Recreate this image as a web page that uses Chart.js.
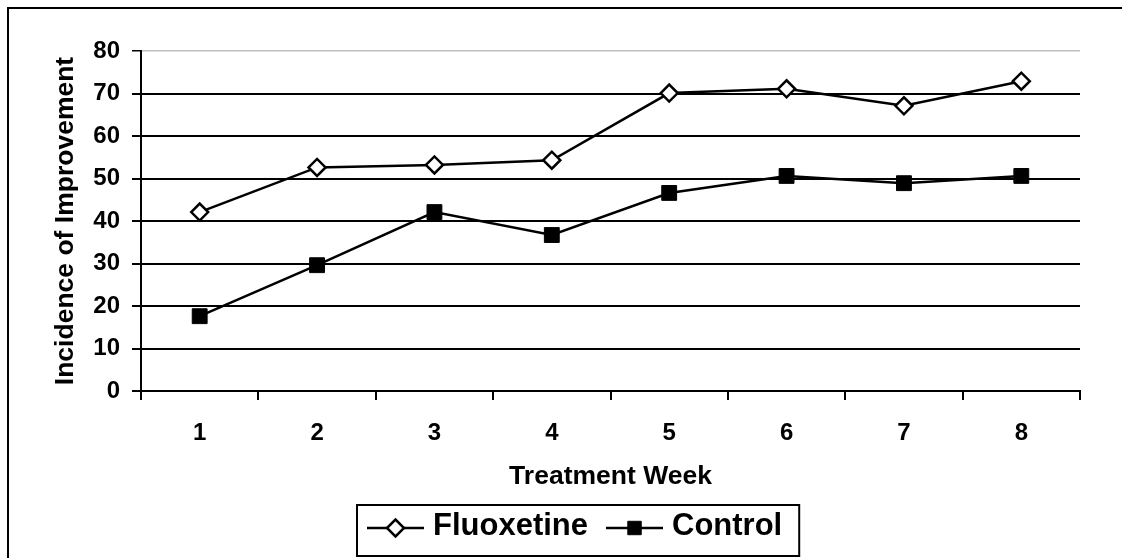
<!DOCTYPE html>
<html>
<head>
<meta charset="utf-8">
<script src="https://cdn.jsdelivr.net/npm/chart.js@4.4.1/dist/chart.umd.min.js"></script>
<style>
html,body{margin:0;padding:0;background:#fff;}
#wrap{width:1122px;height:558px;position:relative;}
</style>
</head>
<body>
<div id="wrap"><canvas id="c" width="1122" height="558"></canvas></div>
<script>
const weeks = ['1','2','3','4','5','6','7','8'];
const fluoxetine = [42.1, 52.6, 53.2, 54.3, 70.1, 71.1, 67.1, 72.9];
const control = [17.6, 29.6, 42.1, 36.7, 46.6, 50.6, 48.9, 50.6];
const yTicks = [0,10,20,30,40,50,60,70,80];
const seriesNames = ['Fluoxetine','Control'];

const FONT = '"Liberation Sans", Arial, sans-serif';

const framePlugin = {
  id: 'frame',
  beforeDraw(chart) {
    const ctx = chart.ctx;
    ctx.save();
    ctx.fillStyle = '#fff';
    ctx.fillRect(0,0,chart.width,chart.height);
    ctx.fillStyle = '#000';
    ctx.fillRect(7,7,chart.width-7,2);
    ctx.fillRect(7,7,2,chart.height-7);
    ctx.restore();
  }
};

const legendPlugin = {
  id: 'boxLegend',
  afterDraw(chart) {
    const ctx = chart.ctx;
    ctx.save();
    ctx.font = 'bold 31px ' + FONT;
    const lineLen = 57, gapText = 9, gapItem = 18, padL = 10, padR = 17;
    const items = chart.data.datasets.map(ds => ({ds, w: ctx.measureText(ds.label).width}));
    let total = padL + padR;
    items.forEach((it,i) => { total += lineLen + gapText + it.w + (i < items.length-1 ? gapItem : 0); });
    const cx = 578, top = 505, h = 51;
    const left = Math.round(cx - total/2);
    ctx.strokeStyle = '#000';
    ctx.lineWidth = 2;
    ctx.strokeRect(left, top, total, h);
    let x = left + padL;
    const my = 528;
    items.forEach(it => {
      const ds = it.ds;
      ctx.beginPath();
      ctx.moveTo(x, my); ctx.lineTo(x+lineLen, my);
      ctx.lineWidth = 2.5; ctx.strokeStyle = '#000'; ctx.stroke();
      ctx.fillStyle = ds.pointBackgroundColor;
      ctx.strokeStyle = ds.pointBorderColor;
      ctx.lineWidth = ds.pointBorderWidth;
      Chart.helpers.drawPoint(ctx, {pointStyle: ds.pointStyle, rotation: 0, borderWidth: ds.pointBorderWidth, radius: ds.legendRadius}, x+lineLen/2, my);
      x += lineLen + gapText;
      ctx.fillStyle = '#000';
      ctx.textBaseline = 'alphabetic';
      ctx.textAlign = 'left';
      ctx.fillText(ds.label, x, 535);
      x += it.w + gapItem;
    });
    ctx.restore();
  }
};

new Chart(document.getElementById('c'), {
  type: 'line',
  data: {
    labels: weeks,
    datasets: [
      {
        label: seriesNames[0],
        data: fluoxetine,
        borderColor: '#000',
        borderWidth: 2.5,
        pointStyle: 'rectRot',
        pointRadius: 8.5,
        legendRadius: 8.5,
        pointBackgroundColor: '#fff',
        pointBorderColor: '#000',
        pointBorderWidth: 2.5,
        tension: 0,
        fill: false
      },
      {
        label: seriesNames[1],
        data: control,
        borderColor: '#000',
        borderWidth: 2.5,
        pointStyle: 'rect',
        pointRadius: 10.5,
        legendRadius: 9.5,
        pointBackgroundColor: '#000',
        pointBorderColor: '#000',
        pointBorderWidth: 1,
        tension: 0,
        fill: false
      }
    ]
  },
  options: {
    responsive: false,
    animation: false,
    devicePixelRatio: 1,
    layout: { padding: { left: 10, top: 51, right: 42, bottom: 53 } },
    plugins: {
      legend: { display: false },
      tooltip: { enabled: false }
    },
    scales: {
      x: {
        type: 'category',
        offset: true,
        grid: {
          offset: true,
          drawOnChartArea: false,
          drawTicks: true,
          tickLength: 9,
          color: '#000',
          lineWidth: 2
        },
        border: { display: true, color: '#000', width: 2 },
        ticks: {
          color: '#000',
          font: { family: FONT, size: 24, weight: 'bold' },
          padding: 19,
          maxRotation: 0
        },
        title: {
          display: true,
          text: 'Treatment Week',
          color: '#000',
          font: { family: FONT, size: 26.5, weight: 'bold' },
          padding: { top: 0, bottom: 12 }
        },
        afterFit(scale) { scale.height = 114; }
      },
      y: {
        min: 0,
        max: 80,
        afterBuildTicks(scale) { scale.ticks = yTicks.map(v => ({value: v})); },
        grid: {
          color: (c) => (c.tick && c.tick.value === 80) ? '#c0c0c0' : '#000',
          lineWidth: (c) => (c.tick && c.tick.value === 80) ? 1.5 : 2,
          tickColor: '#000',
          tickLength: 9,
          drawTicks: true
        },
        border: { display: true, color: '#000', width: 2 },
        ticks: {
          color: '#000',
          font: { family: FONT, size: 24, weight: 'bold' },
          padding: 12
        },
        title: {
          display: true,
          text: 'Incidence of Improvement',
          color: '#000',
          font: { family: FONT, size: 26.5, weight: 'bold' },
          padding: { top: 40, bottom: 0 }
        },
        afterFit(scale) { scale.width = 131; }
      }
    }
  },
  plugins: [framePlugin, legendPlugin]
});
</script>
</body>
</html>
